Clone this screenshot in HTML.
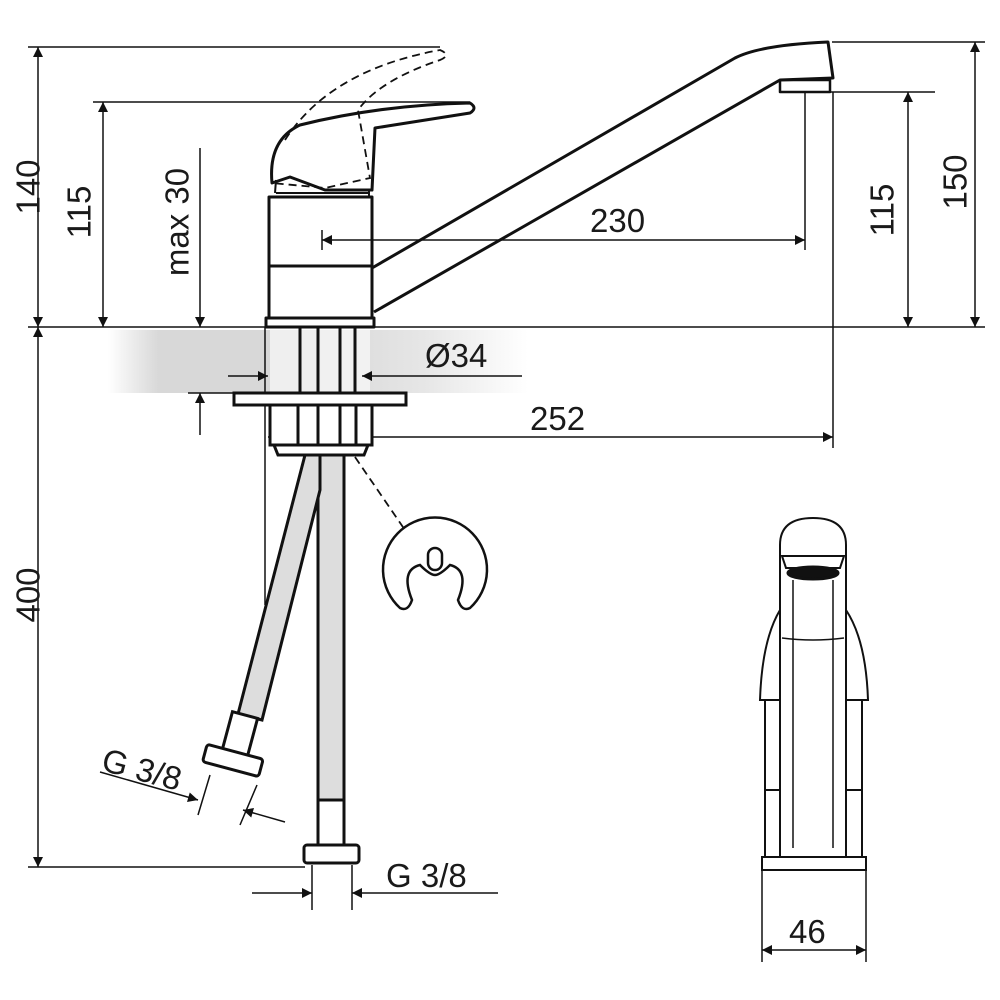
<!DOCTYPE html>
<html><head><style>
html,body{margin:0;padding:0;background:#fff}
svg{display:block}
text{font-family:"Liberation Sans",sans-serif;font-size:33px;fill:#1a1a1a}
</style></head><body>
<svg width="1000" height="1000" viewBox="0 0 1000 1000" xmlns="http://www.w3.org/2000/svg">
<defs>
<linearGradient id="band" x1="0" x2="1" y1="0" y2="0">
<stop offset="0" stop-color="#fff"/><stop offset="0.12" stop-color="#d8d8d8"/><stop offset="0.5" stop-color="#d8d8d8"/><stop offset="0.75" stop-color="#e6e6e6"/><stop offset="1" stop-color="#fff"/>
</linearGradient>
<marker id="a" viewBox="0 0 10 10" refX="10" refY="5" markerWidth="14" markerHeight="10" markerUnits="userSpaceOnUse" orient="auto-start-reverse"><path d="M0,0 L10,5 L0,10z" fill="#111"/></marker>
</defs>
<rect x="108" y="330" width="420" height="63" fill="url(#band)"/>
<rect x="270" y="330" width="100" height="63" fill="#fff" opacity="0.6"/>
<g stroke="#111" stroke-width="1.5" fill="none">
<line x1="28" y1="47" x2="440" y2="47"/>
<line x1="93" y1="102" x2="470" y2="102"/>
<line x1="28" y1="327" x2="985" y2="327"/>
<line x1="832" y1="42" x2="985" y2="42"/>
<line x1="805" y1="92" x2="935" y2="92"/>
<line x1="28" y1="867" x2="305" y2="867"/>
<line x1="833" y1="92" x2="833" y2="448"/>
<line x1="805" y1="92" x2="805" y2="250"/>
<line x1="265" y1="327" x2="265" y2="605"/>
<line x1="188" y1="393" x2="260" y2="393"/>
<line x1="38" y1="47" x2="38" y2="327" marker-start="url(#a)" marker-end="url(#a)"/>
<line x1="38" y1="327" x2="38" y2="867" marker-start="url(#a)" marker-end="url(#a)"/>
<line x1="103" y1="102" x2="103" y2="327" marker-start="url(#a)" marker-end="url(#a)"/>
<line x1="200" y1="148" x2="200" y2="327" marker-end="url(#a)"/>
<line x1="200" y1="435" x2="200" y2="393" marker-end="url(#a)"/>
<line x1="908" y1="92" x2="908" y2="327" marker-start="url(#a)" marker-end="url(#a)"/>
<line x1="975" y1="42" x2="975" y2="327" marker-start="url(#a)" marker-end="url(#a)"/>
<line x1="268" y1="437" x2="833" y2="437" marker-start="url(#a)" marker-end="url(#a)"/>
<line x1="228" y1="376" x2="268" y2="376" marker-end="url(#a)"/>
<line x1="522" y1="376" x2="362" y2="376" marker-end="url(#a)"/>
<line x1="252" y1="893" x2="312" y2="893" marker-end="url(#a)"/>
<line x1="498" y1="893" x2="352" y2="893" marker-end="url(#a)"/>
<line x1="312" y1="865" x2="312" y2="910"/><line x1="352" y1="865" x2="352" y2="910"/>
<line x1="100" y1="772" x2="198" y2="800" marker-end="url(#a)"/>
<line x1="285" y1="822" x2="243" y2="810" marker-end="url(#a)"/>
<line x1="210" y1="775" x2="198" y2="815"/><line x1="257" y1="785" x2="240" y2="825"/>
<line x1="762" y1="950" x2="866" y2="950" marker-start="url(#a)" marker-end="url(#a)"/>
<line x1="762" y1="870" x2="762" y2="962"/><line x1="866" y1="870" x2="866" y2="962"/>
</g>
<g stroke="#111" stroke-width="3" fill="none" stroke-linejoin="round">
<path d="M372,268 L735,58 Q760,45 828,42 L833,78 L780,80 L374,312" fill="#fff"/>
<rect x="780" y="80" width="50" height="12" stroke-width="2.5"/>
<rect x="269" y="197" width="103" height="123" fill="#fff"/>
<line x1="269" y1="266" x2="372" y2="266"/>
<rect x="266" y="318" width="108" height="9" fill="#fff"/>
<path d="M272,183 Q268,140 300,125 Q380,105 470,103 Q478,108 470,113 L375,128 L372,190 L325,190 L290,177 Z" fill="#fff"/>
<path d="M275,193 L276,180 M369,190 L369,197 M276,193 L369,193" stroke-width="2"/>
</g>
<g stroke="#111" stroke-width="1.5" fill="none">
<line x1="322" y1="230" x2="322" y2="250"/>
<line x1="805" y1="240" x2="322" y2="240" marker-start="url(#a)" marker-end="url(#a)"/>
</g>
<g stroke="#111" stroke-width="1.8" fill="none" stroke-dasharray="8,5">
<path d="M285,140 Q330,70 440,50 Q452,55 440,60 Q380,80 358,110 L370,178 L325,188 L272,183"/>
<line x1="355" y1="457" x2="405" y2="530"/>
</g>
<g stroke="#111" stroke-width="3" fill="none">
<line x1="300" y1="327" x2="300" y2="393"/><line x1="318" y1="327" x2="318" y2="393"/><line x1="340" y1="327" x2="340" y2="393"/><line x1="355" y1="327" x2="355" y2="393"/>
<rect x="234" y="393" width="172" height="12" fill="#fff"/>
<rect x="270" y="405" width="102" height="40" fill="#fff"/>
<line x1="298" y1="405" x2="298" y2="445"/><line x1="318" y1="405" x2="318" y2="445"/><line x1="340" y1="405" x2="340" y2="445"/><line x1="356" y1="405" x2="356" y2="445"/>
<path d="M274,445 L368,445 L364,455 L278,455 Z" fill="#fff"/>
<rect x="318" y="455" width="26" height="345" fill="#ddd"/>
<path d="M305,455 L320,455 L320,490 L262,720 L238,714 Z" fill="#ddd"/>
<rect x="318" y="800" width="26" height="45" fill="#fff"/>
<rect x="304" y="845" width="55" height="18" rx="3" fill="#fff"/>
<g transform="rotate(15 237 745)">
<rect x="224" y="714" width="26" height="40" fill="#fff"/>
<rect x="208" y="752" width="58" height="18" rx="3" fill="#fff"/>
</g>
<path d="M400,608 A52,52 0 1 1 470,608 Q462,612 458,600 Q470,570 450,565 Q440,575 435,575 Q430,575 420,565 Q400,570 412,600 Q408,612 400,608 Z" fill="#fff" stroke-width="2.5"/>
<rect x="428" y="548" width="14" height="22" rx="7" stroke-width="2.5"/>
<path d="M780,858 L780,545 Q780,518 813,518 Q846,518 846,545 L846,858" fill="#fff" stroke-width="2"/>
<path d="M760,700 Q762,640 780,610 L780,700 Z M868,700 Q866,640 846,610 L846,700 Z" stroke-width="2" fill="#fff"/>
<path d="M765,700 L765,858 M862,700 L862,858 M765,790 L780,790 M846,790 L862,790" stroke-width="2"/>
<rect x="762" y="857" width="104" height="13" stroke-width="2"/>
<ellipse cx="813" cy="573" rx="25" ry="6" fill="#111"/>
<path d="M782,556 L844,556 L840,568 L786,568 Z" stroke-width="2"/>
<line x1="793" y1="580" x2="793" y2="848" stroke-width="1.5"/><line x1="833" y1="580" x2="833" y2="848" stroke-width="1.5"/>
<path d="M782,638 Q813,642 844,638" stroke-width="1.5"/>
</g>
<text x="31" y="187" transform="rotate(-90 31 187)" text-anchor="middle" dominant-baseline="middle">140</text>
<text x="82" y="212" transform="rotate(-90 82 212)" text-anchor="middle" dominant-baseline="middle">115</text>
<text x="180" y="222" transform="rotate(-90 180 222)" text-anchor="middle" dominant-baseline="middle">max 30</text>
<text x="31" y="595" transform="rotate(-90 31 595)" text-anchor="middle" dominant-baseline="middle">400</text>
<text x="885" y="210" transform="rotate(-90 885 210)" text-anchor="middle" dominant-baseline="middle">115</text>
<text x="958" y="182" transform="rotate(-90 958 182)" text-anchor="middle" dominant-baseline="middle">150</text>
<text x="590" y="232">230</text>
<text x="530" y="430">252</text>
<text x="425" y="367">Ø34</text>
<text x="100" y="770" transform="rotate(15 100 770)">G 3/8</text>
<text x="386" y="887">G 3/8</text>
<text x="789" y="943">46</text>
</svg>
</body></html>
